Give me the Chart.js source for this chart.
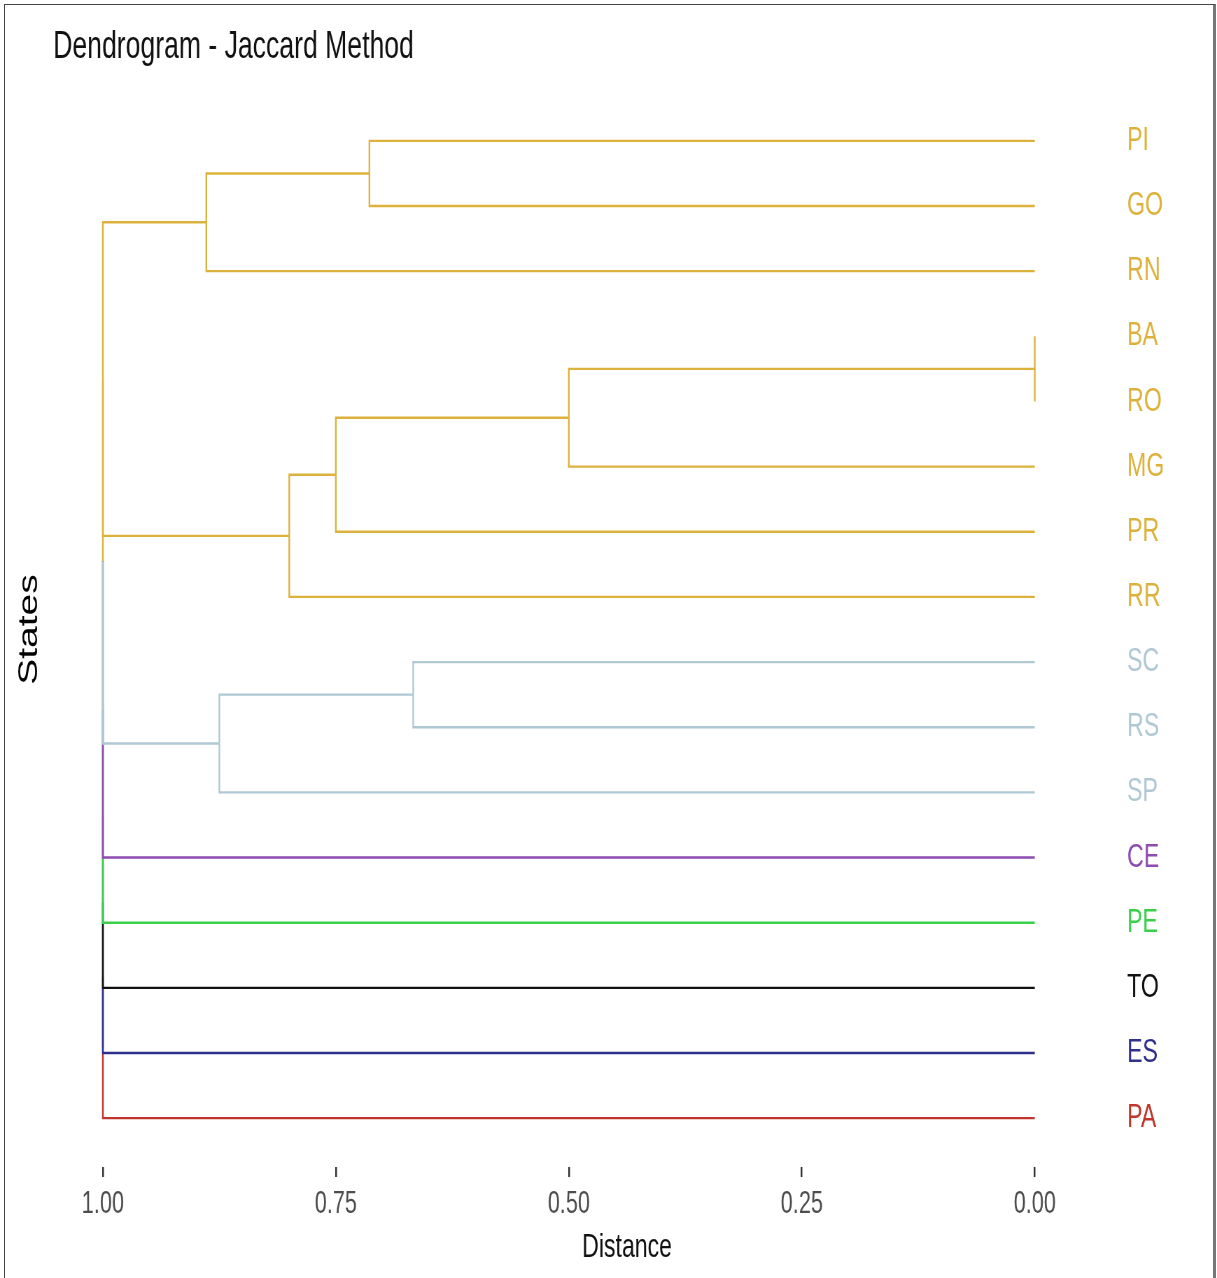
<!DOCTYPE html>
<html>
<head>
<meta charset="utf-8">
<script src="https://cdn.jsdelivr.net/npm/chart.js@4.4.1/dist/chart.umd.min.js"></script>
<style>
  html, body { margin: 0; padding: 0; background: #fff; }
  #wrap { position: relative; width: 1217px; height: 1278px; overflow: hidden; }
  #dend { position: absolute; left: 0; top: 0; }
  #frame {
    position: absolute; left: 4px; top: 4px; width: 1208px; height: 1300px;
    border-left: 1px solid #444; border-top: 1px solid #444; border-right: 3px solid #777;
    pointer-events: none;
  }
</style>
</head>
<body>
<div id="wrap">
  <!-- drawn wide, shown squeezed like the source figure -->
  <canvas id="dend" width="1739" height="1278" style="width:1217px;height:1278px"></canvas>
  <div id="frame"></div>
</div>
<script>
const chartTitle = "Dendrogram - Jaccard Method";
const xTitle = "Distance";
const leaves = ["PI", "GO", "RN", "BA", "RO", "MG", "PR", "RR", "SC", "RS", "SP", "CE", "PE", "TO", "ES", "PA"];
const leafCluster = [1, 1, 1, 1, 1, 1, 1, 1, 2, 2, 2, 3, 4, 5, 6, 7];
// hclust style merges: negative = leaf (1-based), positive = earlier merge
const mergeA = [-1, -4, 2, -9, 3, 5, 4, 1, 8, 9, 10, 11, 12, 13, 14];
const mergeB = [-2, -5, -6, -10, -7, -8, -11, -3, 6, 7, -12, -13, -14, -15, -16];
const mergeHeight = [0.714, 0, 0.5, 0.667, 0.75, 0.8, 0.875, 0.889, 1, 1, 1, 1, 1, 1, 1];
const distanceTicks = [1, 0.75, 0.5, 0.25, 0];

const clusterColors = ["", "#DDB23C", "#B0C8D3", "#8E4CB0", "#3BCF4C", "#111111", "#2F2F8C", "#C0362C"];
const mixedColor = "#000000";
const family = "'Liberation Sans', Arial, sans-serif";

Chart.defaults.font.family = family;

(() => {
  // build tree nodes from the merge table
  const nodes = [];
  const getNode = (ref) =>
    ref < 0 ? { y: -ref, h: 0, members: [-ref - 1] } : nodes[ref - 1];

  mergeA.forEach((a, i) => {
    const l = getNode(a);
    const r = getNode(mergeB[i]);
    nodes.push({
      y: (l.y + r.y) / 2,
      h: mergeHeight[i],
      members: l.members.concat(r.members),
      kids: [l, r],
    });
  });

  const clusterOf = (n) => {
    const set = new Set(n.members.map((m) => leafCluster[m]));
    return set.size === 1 ? [...set][0] : 0;
  };

  // root first, so lower links are painted over it
  const datasets = [];
  let k = 0;
  for (let i = nodes.length - 1; i >= 0; i--) {
    const n = nodes[i];
    const kids = n.kids.slice().sort((p, q) => (clusterOf(p) ? 1 : 0) - (clusterOf(q) ? 1 : 0));
    kids.forEach((kid) => {
      const c = clusterOf(kid);
      datasets.push({
        data: [
          { x: kid.h, y: kid.y },
          { x: n.h, y: kid.y },
          { x: n.h, y: n.y },
        ],
        borderColor: c ? clusterColors[c] : mixedColor,
        borderWidth: 2.4,
        showLine: true,
        pointRadius: 0,
        pointHoverRadius: 0,
        clip: false,
        order: -k,
      });
      k++;
    });
  }

  const titleText = {
    id: "titleText",
    afterDraw: (chart) => {
      const { ctx } = chart;
      ctx.save();
      ctx.fillStyle = "#111";
      ctx.textBaseline = "alphabetic";
      ctx.textAlign = "left";
      ctx.font = "38px " + family;
      ctx.fillText(chartTitle, 76, 58);
      ctx.textAlign = "center";
      ctx.font = "33px " + family;
      ctx.fillText(xTitle, 896, 1257);
      ctx.restore();
    },
  };

  const config = {
    type: "scatter",
    data: { datasets: datasets },
    plugins: [titleText],
    options: {
      responsive: false,
      animation: false,
      layout: { padding: { top: 92, left: 0, right: 0, bottom: 0 } },
      plugins: {
        legend: { display: false },
        tooltip: { enabled: false },
      },
      scales: {
        x: {
          type: "linear",
          reverse: true,
          min: 0,
          max: 1,
          position: "bottom",
          afterBuildTicks: (s) => {
            s.ticks = distanceTicks.map((v) => ({ value: v }));
          },
          afterFit: (s) => {
            s.height = 111;
          },
          border: { display: false },
          grid: {
            drawOnChartArea: false,
            drawTicks: true,
            tickLength: 10,
            color: "#333333",
            lineWidth: 2.5,
          },
          ticks: {
            color: "#4d4d4d",
            font: { size: 31 },
            padding: 9,
            maxRotation: 0,
            autoSkip: false,
            callback: (v) => Number(v).toFixed(2),
          },
        },
        y: {
          type: "linear",
          reverse: true,
          min: 0.25,
          max: 16.75,
          position: "left",
          afterFit: (s) => {
            s.width = 147;
          },
          border: { display: false },
          grid: { display: false },
          ticks: { display: false },
          title: {
            display: true,
            text: "States",
            color: "#000",
            font: { size: 39 },
            padding: { top: 19, bottom: 0 },
          },
        },
        y2: {
          type: "linear",
          display: true,
          reverse: true,
          min: 0.25,
          max: 16.75,
          position: "right",
          afterBuildTicks: (s) => {
            s.ticks = leaves.map((_, i) => ({ value: i + 1 }));
          },
          afterFit: (s) => {
            s.width = 260.4;
          },
          border: { display: false },
          // invisible tick length pushes the labels away from the panel
          grid: { display: false, drawTicks: true, tickLength: 132 },
          ticks: {
            padding: 0,
            autoSkip: false,
            font: { size: 33 },
            color: (c) => clusterColors[leafCluster[Math.round(c.tick.value) - 1]],
            callback: (v) => leaves[Math.round(v) - 1],
          },
        },
      },
    },
  };

  new Chart(document.getElementById("dend"), config);
})();
</script>
</body>
</html>
